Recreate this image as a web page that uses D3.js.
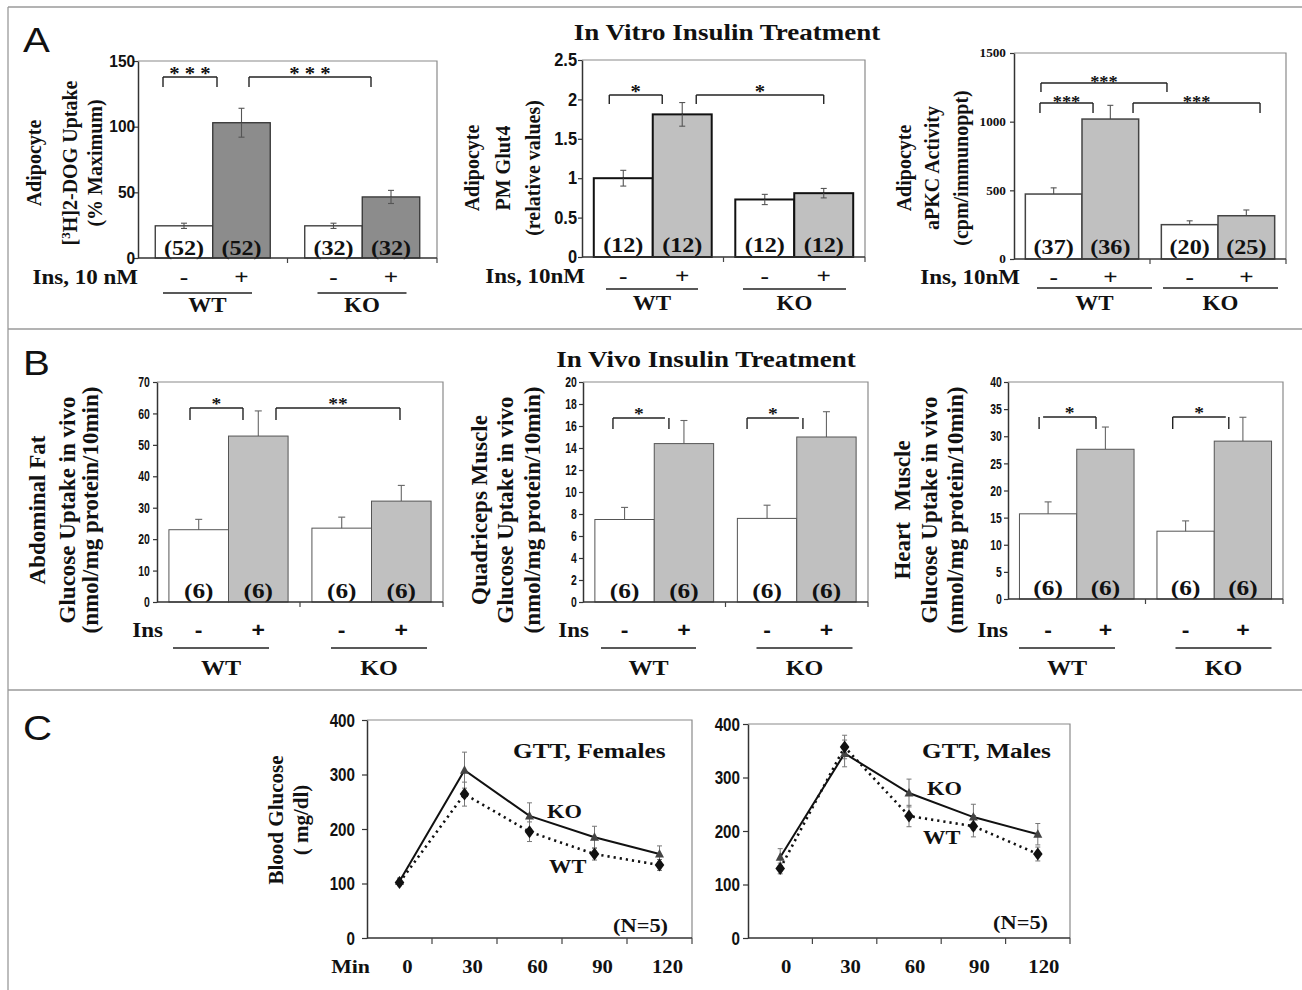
<!DOCTYPE html>
<html><head><meta charset="utf-8">
<script src="https://cdn.jsdelivr.net/npm/d3@7"></script>
<style>body{margin:0;background:#fff} svg{display:block}</style>
</head><body>
<script>
// ================= DATA =================
const genotypes = ["WT", "KO"];
const insulin = ["-", "+"];

// Panel A – in vitro insulin treatment (order: WT-, WT+, KO-, KO+)
const dogUptake = [24.5, 103, 24.5, 46.5];
const dogUptakeErr = [2, 11, 2, 5];
const dogUptakeN = ["(52)", "(52)", "(32)", "(32)"];
const dogUptakeTicks = [0, 50, 100, 150];

const glut4 = [1.0, 1.81, 0.73, 0.81];
const glut4Err = [0.1, 0.15, 0.065, 0.06];
const glut4N = ["(12)", "(12)", "(12)", "(12)"];
const glut4Ticks = [0, 0.5, 1, 1.5, 2, 2.5];

const apkc = [473, 1019, 250, 315];
const apkcErr = [45, 100, 28, 42];
const apkcN = ["(37)", "(36)", "(20)", "(25)"];
const apkcTicks = [0, 500, 1000, 1500];

// Panel B – in vivo insulin treatment
const fatUptake = [23.0, 52.8, 23.5, 32.1];
const fatUptakeErr = [3.3, 8.0, 3.5, 5.0];
const quadUptake = [7.5, 14.4, 7.6, 15.0];
const quadUptakeErr = [1.1, 2.1, 1.2, 2.3];
const heartUptake = [15.7, 27.6, 12.5, 29.1];
const heartUptakeErr = [2.2, 4.1, 1.9, 4.4];
const invivoN = ["(6)", "(6)", "(6)", "(6)"];
const fatTicks = [0, 10, 20, 30, 40, 50, 60, 70];
const quadTicks = [0, 2, 4, 6, 8, 10, 12, 14, 16, 18, 20];
const heartTicks = [0, 5, 10, 15, 20, 25, 30, 35, 40];

// Panel C – GTT
const gttMinutes = [0, 30, 60, 90, 120];
const gttTicks = [0, 100, 200, 300, 400];
const femaleKO = [104, 308, 224, 185, 154];
const femaleKOErr = [6, 33, 24, 20, 15];
const femaleWT = [102, 264, 195, 154, 134];
const femaleWTErr = [6, 22, 18, 11, 10];
const maleKO = [151, 345, 271, 226, 194];
const maleKOErr = [16, 25, 26, 24, 20];
const maleWT = [130, 357, 228, 209, 157];
const maleWTErr = [10, 22, 20, 20, 13];

// ================= DRAWING =================
const SX = 1.15;
const SERIF = "'Liberation Serif','Times New Roman',Times,serif";
const NARROW = "'Liberation Sans Narrow','Arial Narrow','Liberation Sans',Arial,sans-serif";
const SANS = "'Liberation Sans',Arial,Helvetica,sans-serif";

const svg = d3.select("body").append("svg").attr("width", 1302).attr("height", 990)
  .style("background", "#fff");

function htext(g, x, y, s, o = {}) {
  const t = g.append("text")
    .attr("transform", `translate(${x},${y}) scale(${o.sx ?? SX},1)`)
    .attr("text-anchor", o.anchor || "start")
    .attr("font-family", o.font || SERIF)
    .attr("font-weight", o.weight || "bold")
    .attr("font-size", o.fs || 20)
    .attr("fill", o.fill || "#111")
    .style("white-space", "pre")
    .text(s);
  if (o.ls) t.attr("letter-spacing", o.ls);
  return t;
}
function vtext(g, x, y, s, fs) {
  return g.append("text")
    .attr("transform", `translate(${x},${y}) rotate(-90)`)
    .attr("text-anchor", "middle")
    .attr("font-family", SERIF).attr("font-weight", "bold")
    .attr("font-size", fs).attr("fill", "#111")
    .style("white-space", "pre")
    .text(s);
}

// figure frame
const frame = svg.append("g").attr("stroke", "#9a9a9a").attr("stroke-width", 1.3);
frame.append("line").attr("x1", 8).attr("y1", 7).attr("x2", 1302).attr("y2", 7);
frame.append("line").attr("x1", 8).attr("y1", 7).attr("x2", 8).attr("y2", 990);
frame.append("line").attr("x1", 8).attr("y1", 329).attr("x2", 1302).attr("y2", 329);
frame.append("line").attr("x1", 8).attr("y1", 690).attr("x2", 1302).attr("y2", 690);

// panel letters & titles
htext(svg, 23, 52, "A", { font: SANS, weight: "normal", fs: 35 });
htext(svg, 23, 375, "B", { font: SANS, weight: "normal", fs: 35 });
htext(svg, 23, 740, "C", { font: SANS, weight: "normal", fs: 35 });
htext(svg, 727, 40, "In Vitro Insulin Treatment", { anchor: "middle", fs: 23.5 });
htext(svg, 706, 367, "In Vivo Insulin Treatment", { anchor: "middle", fs: 23.5 });

function barChart(c) {
  const g = svg.append("g");
  const y = d3.scaleLinear().domain([0, c.ticks[c.ticks.length - 1]]).range([c.bottom, c.top]);
  const xo = d3.scaleBand().domain(genotypes).range([c.x0, c.x1]);
  const xi = d3.scaleBand().domain(insulin).range([0, xo.bandwidth()]).paddingOuter(c.pad);
  const data = genotypes.flatMap(gt => insulin.map(ins => ({ gt, ins })))
    .map((d, i) => ({ ...d, v: c.values[i], e: c.errs[i], n: c.n[i] }));
  const bx = d => xo(d.gt) + xi(d.ins);
  const cx = d => bx(d) + xi.bandwidth() / 2;

  // plot border (top/right)
  g.append("path").attr("d", `M${c.x0},${c.top}H${c.x1}V${c.bottom}`)
    .attr("fill", "none").attr("stroke", "#8a8a8a").attr("stroke-width", 1.2);

  // error bars (upper part, behind bars)
  const eg = g.append("g").attr("stroke", c.errColor).attr("stroke-width", 1.1);
  data.forEach(d => {
    const hi = y(d.v + d.e);
    eg.append("line").attr("x1", cx(d)).attr("x2", cx(d)).attr("y1", y(d.v)).attr("y2", hi);
    eg.append("line").attr("x1", cx(d) - c.cap / 2).attr("x2", cx(d) + c.cap / 2).attr("y1", hi).attr("y2", hi);
  });

  // bars
  g.selectAll("rect.bar").data(data).join("rect").attr("class", "bar")
    .attr("x", bx).attr("width", xi.bandwidth())
    .attr("y", d => y(d.v)).attr("height", d => y(0) - y(d.v))
    .attr("fill", d => d.ins === "+" ? c.fill : "#fff")
    .attr("fill-opacity", d => d.ins === "+" ? 1 : 0)
    .attr("stroke", c.stroke).attr("stroke-width", c.sw);
  // lower part of two-sided error bars, drawn over the bars
  if (c.errBoth) {
    const eg2 = g.append("g").attr("stroke", c.errColor).attr("stroke-width", 1.1);
    data.forEach(d => {
      eg2.append("line").attr("x1", cx(d)).attr("x2", cx(d)).attr("y1", y(d.v - d.e)).attr("y2", y(d.v));
      eg2.append("line").attr("x1", cx(d) - c.cap / 2).attr("x2", cx(d) + c.cap / 2).attr("y1", y(d.v - d.e)).attr("y2", y(d.v - d.e));
    });
  }

  // n labels
  data.forEach(d => htext(g, cx(d), c.bottom - c.nOff, d.n, { anchor: "middle", fs: c.nFs }));

  // y axis
  const ax = d3.axisLeft(y).tickValues(c.ticks).tickSize(4).tickSizeOuter(0)
    .tickPadding(c.tickPad).tickFormat(d3.format("~g"));
  const axg = g.append("g").attr("transform", `translate(${c.x0},0)`).call(ax);
  axg.select(".domain").attr("stroke", "#333").attr("stroke-width", 1.5);
  axg.selectAll(".tick line").attr("stroke", "#333").attr("stroke-width", 1.2);
  axg.selectAll(".tick text").attr("font-family", c.tickFont).attr("font-weight", "bold")
    .attr("font-size", c.tickFs).attr("fill", "#111")
    .attr("transform", `scale(${c.tickSx},1)`);

  // x baseline with band boundary ticks
  g.append("line").attr("x1", c.x0).attr("x2", c.x1).attr("y1", y(0)).attr("y2", y(0))
    .attr("stroke", "#333").attr("stroke-width", 1.5);
  [xo("KO"), c.x1].forEach(xx => g.append("line").attr("x1", xx).attr("x2", xx)
    .attr("y1", y(0)).attr("y2", y(0) + 5).attr("stroke", "#444").attr("stroke-width", 1.2));

  // significance brackets
  c.brackets.forEach(b => {
    const l = cx(data[b.i]) + b.dl, r = cx(data[b.j]) + b.dr, yb = c.top + b.dy;
    const bg = g.append("g").attr("stroke", "#222").attr("stroke-width", 1.4).attr("fill", "none");
    bg.append("line").attr("x1", l).attr("x2", r).attr("y1", yb).attr("y2", yb);
    bg.append("line").attr("x1", l + (b.lo || 0)).attr("x2", l + (b.lo || 0)).attr("y1", yb).attr("y2", yb + b.leg);
    bg.append("line").attr("x1", r + (b.ro || 0)).attr("x2", r + (b.ro || 0)).attr("y1", yb).attr("y2", yb + b.leg);
    htext(g, (l + r) / 2, yb - c.starGap + 0.47 * c.starFs, b.t, { anchor: "middle", fs: c.starFs });
  });

  // insulin row
  htext(g, c.insX, c.signY, c.insText, { anchor: "end", fs: 20 });
  data.forEach(d => htext(g, cx(d), c.signY, d.ins, { anchor: "middle", fs: c.signFs, font: c.signFont }));
  genotypes.forEach((gt, k) => {
    const a = xo(gt) + c.ul[k][0], b = xo(gt) + c.ul[k][1];
    g.append("line").attr("x1", a).attr("x2", b).attr("y1", c.ulY).attr("y2", c.ulY)
      .attr("stroke", "#222").attr("stroke-width", 1.5);
    htext(g, (a + b) / 2, c.gtY, gt, { anchor: "middle", fs: c.gtFs });
  });

  // y title
  c.yt.forEach(line => {
    if (line.sup) {
      const t = vtext(g, line.x, c.ytY, "", c.ytFs);
      t.append("tspan").text("[");
      t.append("tspan").attr("font-size", c.ytFs * 0.65).attr("dy", -c.ytFs * 0.35).text("3");
      t.append("tspan").attr("dy", c.ytFs * 0.35).text("H]2-DOG Uptake");
    } else {
      vtext(g, line.x, c.ytY, line.t, c.ytFs);
    }
  });
}

const commonA = { errColor: "#555", cap: 6, tickFont: NARROW, tickFs: 17.5, tickSx: 0.94, nFs: 21,
  starFs: 18, starGap: 5, signFont: SERIF, signFs: 22, gtFs: 20, ytFs: 20 };
const commonB = { fill: "#c0c0c0", stroke: "#555", sw: 1, errBoth: false, errColor: "#666", cap: 7,
  tickFont: NARROW, tickFs: 14.5, tickSx: 0.72, tickPad: 4.6, nFs: 22, nOff: 4, starFs: 17, starGap: 7,
  insText: "Ins", signY: 637, signFont: SANS, signFs: 20, ulY: 648, gtY: 675, gtFs: 21, ytFs: 23, ytY: 510 };

barChart({ ...commonA, x0: 138, x1: 437, top: 61, bottom: 258, values: dogUptake, errs: dogUptakeErr,
  n: dogUptakeN, ticks: dogUptakeTicks, pad: 0.3, fill: "#8c8c8c", stroke: "#333", sw: 1.3, errBoth: true,
  tickPad: -1, tickFs: 16.5, nOff: 3,
  brackets: [{ i: 0, j: 1, dl: -21, dr: -24.5, dy: 16, leg: 10, t: "* * *" },
             { i: 1, j: 3, dl: 7.5, dr: -20, dy: 16, leg: 10, t: "* * *" }],
  insText: "Ins, 10 nM", insX: 138, signY: 284, ul: [[25, 114], [30, 119]], ulY: 293, gtY: 312,
  yt: [{ t: "Adipocyte", x: 41 }, { sup: true, x: 77 }, { t: "(% Maximum)", x: 102 }], ytY: 163 });

barChart({ ...commonA, x0: 582, x1: 865, top: 60, bottom: 257, values: glut4, errs: glut4Err,
  n: glut4N, ticks: glut4Ticks, pad: 0.2, fill: "#c0c0c0", stroke: "#111", sw: 2, errBoth: true,
  tickPad: 1.3, nOff: 5,
  brackets: [{ i: 0, j: 1, dl: -14, dr: -20, dy: 35, leg: 9, t: "*" },
             { i: 1, j: 3, dl: 14, dr: 0, dy: 35, leg: 9, t: "*" }],
  insText: "Ins, 10nM", insX: 585, signY: 283, ul: [[24, 116], [19.5, 122.5]], ulY: 289, gtY: 310,
  yt: [{ t: "Adipocyte", x: 479 }, { t: "PM Glut4", x: 510 }, { t: "(relative values)", x: 540 }], ytY: 168 });

barChart({ ...commonA, x0: 1014, x1: 1286, top: 53, bottom: 259, values: apkc, errs: apkcErr,
  n: apkcN, ticks: apkcTicks, pad: 0.2, fill: "#c0c0c0", stroke: "#444", sw: 1.5, errBoth: false,
  tickFont: SERIF, tickFs: 11.5, tickSx: SX, tickPad: 3, nOff: 5, starFs: 16, starGap: 4,
  brackets: [{ i: 0, j: 2, dl: -12.7, dr: -22.7, dy: 30, leg: 9, t: "***" },
             { i: 0, j: 1, dl: -13.7, dr: -17.3, dy: 50, leg: 10, t: "***" },
             { i: 1, j: 3, dl: 22.7, dr: 13.7, dy: 50, leg: 10, t: "***" }],
  insText: "Ins, 10nM", insX: 1020, signY: 284, ul: [[23, 138], [13, 128]], ulY: 288, gtY: 310,
  yt: [{ t: "Adipocyte", x: 911 }, { t: "aPKC Activity", x: 939 }, { t: "(cpm/immunoppt)", x: 968 }], ytY: 168 });

barChart({ ...commonB, x0: 157, x1: 443, top: 382, bottom: 602, values: fatUptake, errs: fatUptakeErr,
  n: invivoN, ticks: fatTicks, pad: 0.2, tickPad: 6,
  brackets: [{ i: 0, j: 1, dl: -8.7, dr: -15.3, dy: 26, leg: 12, t: "*" },
             { i: 1, j: 3, dl: 17.7, dr: -1.3, dy: 26, leg: 12, t: "**" }],
  insX: 163, ul: [[16, 112], [31, 127]],
  yt: [{ t: "Abdominal Fat", x: 45 }, { t: "Glucose Uptake in vivo", x: 75 }, { t: "(nmol/mg protein/10min)", x: 98 }] });

barChart({ ...commonB, x0: 583, x1: 868, top: 382, bottom: 602, values: quadUptake, errs: quadUptakeErr,
  n: invivoN, ticks: quadTicks, pad: 0.2,
  brackets: [{ i: 0, j: 1, dl: -11.6, dr: -19, ro: 4, dy: 36, leg: 11, t: "*" },
             { i: 2, j: 3, dl: -20, dr: -27.5, ro: 4, dy: 36, leg: 11, t: "*" }],
  insX: 589, ul: [[18, 113], [31, 127]],
  yt: [{ t: "Quadriceps Muscle", x: 487 }, { t: "Glucose Uptake in vivo", x: 513 }, { t: "(nmol/mg protein/10min)", x: 540 }] });

barChart({ ...commonB, x0: 1008, x1: 1283, top: 382, bottom: 599, values: heartUptake, errs: heartUptakeErr,
  n: invivoN, ticks: heartTicks, pad: 0.2,
  brackets: [{ i: 0, j: 1, dl: -5, dr: -9.4, lo: -4, dy: 35, leg: 12, t: "*" },
             { i: 2, j: 3, dl: -12.9, dr: -17.1, ro: 3, dy: 35, leg: 12, t: "*" }],
  insX: 1008, ul: [[11, 107], [30, 126]],
  yt: [{ t: "Heart  Muscle", x: 910 }, { t: "Glucose Uptake in vivo", x: 937 }, { t: "(nmol/mg protein/10min)", x: 963 }] });

// ---------- GTT line charts ----------
function gttChart(c) {
  const g = svg.append("g");
  const x = d3.scaleBand().domain(gttMinutes).range([c.x0, c.x1]);
  const y = d3.scaleLinear().domain([0, gttTicks[gttTicks.length - 1]]).range([c.bottom, c.top]);
  const px = m => x(m) + x.bandwidth() / 2;

  g.append("path").attr("d", `M${c.x0},${c.top}H${c.x1}V${c.bottom}`)
    .attr("fill", "none").attr("stroke", "#8a8a8a").attr("stroke-width", 1.2);

  const ax = d3.axisLeft(y).tickValues(gttTicks).tickSize(5).tickSizeOuter(0).tickPadding(c.tickPad)
    .tickFormat(d3.format("d"));
  const axg = g.append("g").attr("transform", `translate(${c.x0},0)`).call(ax);
  axg.select(".domain").attr("stroke", "#333").attr("stroke-width", 1.5);
  axg.selectAll(".tick line").attr("stroke", "#333").attr("stroke-width", 1.2);
  axg.selectAll(".tick text").attr("font-family", NARROW).attr("font-weight", "bold")
    .attr("font-size", 19).attr("fill", "#111").attr("transform", "scale(0.8,1)");

  g.append("line").attr("x1", c.x0).attr("x2", c.x1).attr("y1", y(0)).attr("y2", y(0))
    .attr("stroke", "#333").attr("stroke-width", 1.5);
  gttMinutes.slice(1).map(m => x(m)).concat([c.x1]).forEach(xx =>
    g.append("line").attr("x1", xx).attr("x2", xx).attr("y1", y(0)).attr("y2", y(0) + 6)
      .attr("stroke", "#444").attr("stroke-width", 1.2));
  gttMinutes.forEach(m => htext(g, px(m) + c.lblDx, 973, String(m), { anchor: "middle", fs: 18 }));

  const series = [
    { v: c.ko, e: c.koErr, dash: null, w: 2, marker: "tri" },
    { v: c.wt, e: c.wtErr, dash: "2.2,4", w: 2.6, marker: "dia" }
  ];
  const eg = g.append("g").attr("stroke", "#777").attr("stroke-width", 1);
  series.forEach(s => s.v.forEach((v, i) => {
    const xx = px(gttMinutes[i]);
    eg.append("line").attr("x1", xx).attr("x2", xx).attr("y1", y(v - s.e[i])).attr("y2", y(v + s.e[i]));
    [v - s.e[i], v + s.e[i]].forEach(t => eg.append("line").attr("x1", xx - 2.5).attr("x2", xx + 2.5)
      .attr("y1", y(t)).attr("y2", y(t)));
  }));
  const line = d3.line().x((d, i) => px(gttMinutes[i])).y(d => y(d));
  series.forEach(s => g.append("path").attr("d", line(s.v)).attr("fill", "none")
    .attr("stroke", "#111").attr("stroke-width", s.w).attr("stroke-dasharray", s.dash));
  series.forEach(s => s.v.forEach((v, i) => {
    const p = s.marker === "tri" ? "M0,-5L4.5,3.5H-4.5Z" : "M0,-6.5L4.8,0L0,6.5L-4.8,0Z";
    g.append("path").attr("d", p).attr("transform", `translate(${px(gttMinutes[i])},${y(v)})`)
      .attr("fill", s.marker === "tri" ? "#444" : "#111");
  }));

  htext(g, c.titleX, 758, c.title, { fs: 22 });
  htext(g, c.koLbl[0], c.koLbl[1], "KO", { fs: 19.5 });
  htext(g, c.wtLbl[0], c.wtLbl[1], "WT", { fs: 19.5 });
  htext(g, c.nLbl[0], c.nLbl[1], "(N=5)", { fs: 19.5 });
  if (c.yTitle) {
    htext(g, c.x0 + 3, 973, "Min", { anchor: "end", fs: 19 });
    vtext(g, 283, 820, "Blood Glucose", 21);
    vtext(g, 308, 820, "( mg/dl)", 21);
  }
}

gttChart({ x0: 367, x1: 692, top: 720, bottom: 938, ko: femaleKO, koErr: femaleKOErr, wt: femaleWT,
  wtErr: femaleWTErr, lblDx: 8, tickPad: 10, title: "GTT, Females", titleX: 513,
  koLbl: [547, 818], wtLbl: [549, 873], nLbl: [613, 932], yTitle: true });
gttChart({ x0: 748, x1: 1070, top: 724, bottom: 938, ko: maleKO, koErr: maleKOErr, wt: maleWT,
  wtErr: maleWTErr, lblDx: 6, tickPad: 5, title: "GTT, Males", titleX: 922,
  koLbl: [927, 795], wtLbl: [923, 844], nLbl: [993, 929], yTitle: false });
</script>
</body></html>
